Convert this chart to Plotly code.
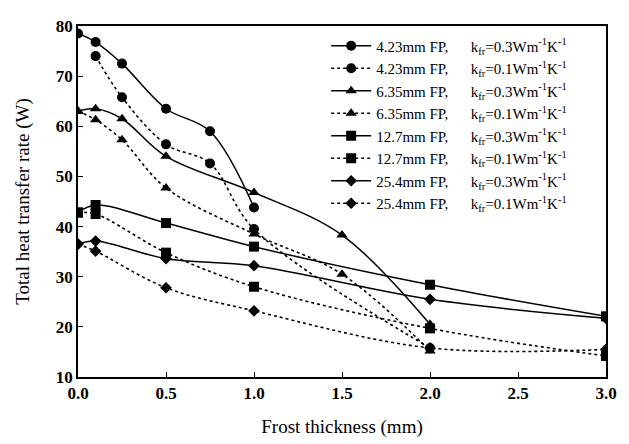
import plotly.graph_objects as go

# x values (frost thickness, mm) and heat transfer rates (W)
x_423_03 = [0.0, 0.1, 0.25, 0.5, 0.75, 1.0]
y_423_03 = [78.5, 76.8, 72.5, 63.5, 59.0, 43.8]
x_423_01 = [0.1, 0.25, 0.5, 0.75, 1.0, 2.0]
y_423_01 = [74.0, 65.8, 56.4, 52.6, 39.5, 15.8]
x_635_03 = [0.0, 0.1, 0.25, 0.5, 1.0, 1.5, 2.0]
y_635_03 = [63.0, 63.5, 61.5, 54.0, 46.8, 38.3, 20.5]
x_635_01 = [0.0, 0.1, 0.25, 0.5, 1.0, 1.5, 2.0]
y_635_01 = [63.0, 61.3, 57.3, 47.7, 38.5, 30.5, 15.2]
x_127_03 = [0.0, 0.1, 0.5, 1.0, 2.0, 3.0]
y_127_03 = [42.8, 44.3, 40.7, 36.0, 28.4, 22.1]
x_127_01 = [0.0, 0.1, 0.5, 1.0, 2.0, 3.0]
y_127_01 = [42.8, 42.5, 34.8, 28.0, 19.7, 14.2]
x_254_03 = [0.0, 0.1, 0.5, 1.0, 2.0, 3.0]
y_254_03 = [36.5, 37.1, 33.6, 32.2, 25.5, 21.7]
x_254_01 = [0.0, 0.1, 0.5, 1.0, 2.0, 3.0]
y_254_01 = [36.5, 35.1, 27.8, 23.2, 15.8, 15.5]

x_ticks = [0.0, 0.5, 1.0, 1.5, 2.0, 2.5, 3.0]
x_tick_labels = ["0.0", "0.5", "1.0", "1.5", "2.0", "2.5", "3.0"]
y_ticks = [10, 20, 30, 40, 50, 60, 70, 80]
y_tick_labels = ["10", "20", "30", "40", "50", "60", "70", "80"]

sizes = ["4.23mm FP,", "4.23mm FP,", "6.35mm FP,", "6.35mm FP,",
         "12.7mm FP,", "12.7mm FP,", "25.4mm FP,", "25.4mm FP,"]
kvals = ["0.3", "0.1", "0.3", "0.1", "0.3", "0.1", "0.3", "0.1"]
xs = [x_423_03, x_423_01, x_635_03, x_635_01, x_127_03, x_127_01, x_254_03, x_254_01]
ys = [y_423_03, y_423_01, y_635_03, y_635_01, y_127_03, y_127_01, y_254_03, y_254_01]
symbols = ["circle", "circle", "triangle-up", "triangle-up",
           "square", "square", "diamond", "diamond"]
msizes = [10, 10, 10, 10, 10, 10, 9, 9]

fig = go.Figure()
for i in range(8):
    solid = kvals[i] == "0.3"
    name = (sizes[i] + "\u00a0\u00a0\u00a0\u00a0\u00a0\u00a0k<sub>fr</sub>=" + kvals[i]
            + "Wm<sup>-1</sup>K<sup>-1</sup>")
    fig.add_trace(go.Scatter(
        x=xs[i], y=ys[i], mode="lines+markers", name=name,
        line=dict(color="black", width=1.5 if solid else 1.6,
                  dash="solid" if solid else "dot", shape="spline", smoothing=1.0),
        marker=dict(symbol=symbols[i], size=msizes[i], color="black"),
    ))

fig.update_layout(
    width=629, height=444,
    margin=dict(l=70, r=31, t=9, b=75),
    paper_bgcolor="white", plot_bgcolor="white",
    font=dict(family="Liberation Serif", color="black"),
    legend=dict(x=0.47, y=0.99, xanchor="left", yanchor="top",
                bgcolor="rgba(0,0,0,0)", font=dict(size=15, family="Liberation Serif"),
                tracegroupgap=0, itemwidth=40),
    showlegend=True,
)
tick_font = dict(size=17, family="Times New Roman, Liberation Serif, serif", weight=900)
fig.update_xaxes(
    range=[0, 3], tickvals=x_ticks, ticktext=["<b>" + t + "</b>" for t in x_tick_labels],
    showline=True, linecolor="black", linewidth=1.5, mirror=True,
    ticks="inside", ticklen=5, tickwidth=1, tickcolor="black",
    showgrid=False, zeroline=False,
    tickfont=tick_font,
    title=dict(text="Frost thickness (mm)", font=dict(size=19, family="Liberation Serif"),
               standoff=18),
)
fig.update_yaxes(
    range=[10, 80], tickvals=y_ticks, ticktext=["<b>" + t + "</b>" for t in y_tick_labels],
    showline=True, linecolor="black", linewidth=1.5, mirror=True,
    ticks="inside", ticklen=5, tickwidth=1, tickcolor="black",
    showgrid=False, zeroline=False,
    tickfont=tick_font,
    title=dict(text="Total heat transfer rate (W)", font=dict(size=19, family="Liberation Serif"),
               standoff=21),
)

fig.write_html("out.html")
